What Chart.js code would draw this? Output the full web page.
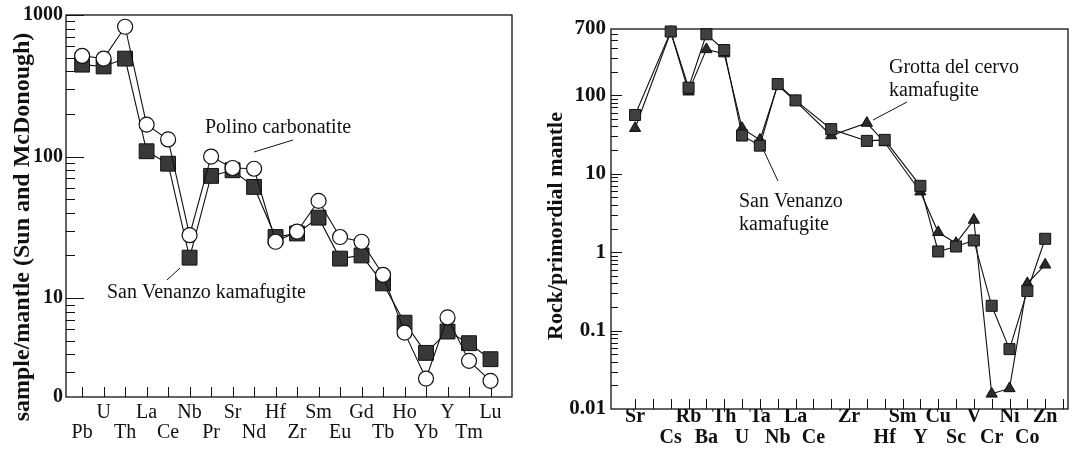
<!DOCTYPE html>
<html>
<head>
<meta charset="utf-8">
<script src="https://cdn.jsdelivr.net/npm/chart.js@4.4.1/dist/chart.umd.min.js"></script>
<style>
  html, body { margin: 0; padding: 0; background: #fff; }
  #wrap { position: relative; width: 1077px; height: 455px; overflow: hidden; background: #fff; }
  canvas { position: absolute; top: 0; }
  #left { left: 0; }
  #right { left: 540px; }
</style>
</head>
<body>
<div id="wrap">
  <canvas id="left" width="540" height="455"></canvas>
  <canvas id="right" width="537" height="455"></canvas>
</div>
<script>
// left panel, normalised to Sun and McDonough
const leftElements = ['Pb', 'U', 'Th', 'La', 'Ce', 'Nb', 'Pr', 'Sr', 'Nd', 'Hf', 'Zr', 'Sm', 'Eu', 'Gd', 'Tb', 'Ho', 'Yb', 'Y', 'Tm', 'Lu'];
const polinoCarbonatite = [515, 492, 826, 168, 132, 27.8, 100, 83, 82, 25, 29.5, 48.6, 27, 25, 14.6, 5.7, 2.7, 7.3, 3.6, 2.6];
const sanVenanzoLeft = [446, 433, 492, 109, 89, 19.3, 73, 80, 61, 27, 28.6, 37, 19, 20, 12.7, 6.7, 4.1, 5.8, 4.8, 3.7];
const leftTickValues = [1000, 100, 10, 2];
const leftTickLabels = ['1000', '100', '10', '0'];

// right panel, normalised to primordial mantle; one slot per tick mark on the x axis
const rightSlots = ['Sr', '', 'Cs', 'Rb', 'Ba', 'Th', 'U', 'Ta', 'Nb', 'La', 'Ce', '', 'Zr', '', 'Hf', 'Sm', 'Y', 'Cu', 'Sc', 'V', 'Cr', 'Ni', 'Co', 'Zn', ''];
const sanVenanzoRight = [56, null, 650, 125, 600, 377, 30.7, 22.8, 139, 86, null, 37, null, 26.2, 27, null, 7.0, 1.02, 1.18, 1.41, 0.207, 0.058, 0.32, 1.48, null];
const grottaDelCervo = [38, null, 640, 111, 385, 340, 38, 27, 135, 84, null, 30.7, null, 44.3, 25, null, 5.9, 1.79, 1.3, 2.57, 0.0156, 0.0183, 0.40, 0.69, null];
const rightTickValues = [700, 100, 10, 1, 0.1, 0.01];
const rightTickLabels = ['700', '100', '10', '1', '0.1', '0.01'];

const SERIF = "'Liberation Serif', 'Times New Roman', serif";
const INK = '#111';

// minor log ticks (2..9 of every decade) between lo and hi
function minorTicks(lo, hi) {
    const out = [];
    for (let d = 0.001; d < hi; d *= 10) {
        for (let m = 2; m <= 9; m++) {
            const v = m * d;
            if (v > lo * 1.0001 && v < hi * 0.9999) out.push(v);
        }
    }
    return out;
}

const toPoints = arr => arr.map((v, i) => ({ x: i, y: v })).filter(p => p.y !== null);

// frame, inward tick marks and the hand-placed labels of the figure
const paper = {
    id: 'paper',
    beforeDatasetsDraw(chart, args, o) {
        const { ctx, chartArea: a, scales: { x, y } } = chart;
        ctx.save();
        ctx.strokeStyle = INK;
        ctx.lineWidth = 1.3;
        ctx.strokeRect(a.left, a.top, a.right - a.left, a.bottom - a.top);
        ctx.lineWidth = 1;
        ctx.beginPath();
        o.yMajor.forEach(v => {
            const p = Math.round(y.getPixelForValue(v)) + 0.5;
            ctx.moveTo(a.left, p); ctx.lineTo(a.left + o.majorLen, p);
        });
        o.yMinor.forEach(v => {
            const p = Math.round(y.getPixelForValue(v)) + 0.5;
            ctx.moveTo(a.left, p); ctx.lineTo(a.left + o.minorLen, p);
        });
        o.xTicks.forEach(v => {
            const p = Math.round(x.getPixelForValue(v)) + 0.5;
            ctx.moveTo(p, a.bottom); ctx.lineTo(p, a.bottom - o.xLen);
        });
        ctx.stroke();
        ctx.restore();
    },
    afterDraw(chart, args, o) {
        const { ctx } = chart;
        ctx.save();
        ctx.strokeStyle = INK;
        ctx.fillStyle = INK;
        ctx.lineWidth = 1;
        ctx.beginPath();
        (o.leaders || []).forEach(([x1, y1, x2, y2]) => { ctx.moveTo(x1, y1); ctx.lineTo(x2, y2); });
        ctx.stroke();
        (o.notes || []).forEach(n => {
            ctx.font = n.font || '20px ' + SERIF;
            ctx.textBaseline = 'alphabetic';
            if (n.rotate) {
                ctx.save();
                ctx.translate(n.x, n.y);
                ctx.rotate(-Math.PI / 2);
                ctx.textAlign = 'center';
                ctx.textBaseline = 'middle';
                ctx.fillText(n.text, 0, 0);
                ctx.restore();
            } else {
                ctx.textAlign = 'left';
                ctx.fillText(n.text, n.x, n.y);
            }
        });
        ctx.restore();
    }
};

// left chart
new Chart(document.getElementById('left'), {
    type: 'line',
    data: {
        datasets: [
            {
                label: 'Polino carbonatite',
                data: toPoints(polinoCarbonatite),
                borderColor: INK,
                borderWidth: 1.1,
                pointStyle: 'circle',
                pointRadius: 7.5,
                pointBackgroundColor: '#fff',
                pointBorderColor: INK,
                pointBorderWidth: 1.2,
                tension: 0,
                clip: false
            },
            {
                label: 'San Venanzo kamafugite',
                data: toPoints(sanVenanzoLeft),
                borderColor: INK,
                borderWidth: 1.1,
                pointStyle: 'rect',
                pointRadius: 10.5,
                pointBackgroundColor: '#383838',
                pointBorderColor: INK,
                pointBorderWidth: 1,
                tension: 0,
                clip: false
            }
        ]
    },
    options: {
        responsive: false,
        animation: false,
        devicePixelRatio: 1,
        layout: { padding: { top: 15, right: 28, left: 0, bottom: 0 } },
        plugins: {
            legend: { display: false },
            tooltip: { enabled: false },
            paper: {
                yMajor: [1000, 100, 10],
                yMinor: minorTicks(2, 1000),
                majorLen: 18,
                minorLen: 9,
                xTicks: leftElements.map((_, i) => i),
                xLen: 10,
                leaders: [[293, 140, 254, 152], [180, 268, 167, 280]],
                notes: [
                    { text: 'Polino carbonatite', x: 205, y: 133 },
                    { text: 'San Venanzo kamafugite', x: 107, y: 298 },
                    { text: 'sample/mantle (Sun and McDonough)', x: 23, y: 227, rotate: true, font: 'bold 24px ' + SERIF }
                ]
            }
        },
        scales: {
            x: {
                type: 'linear',
                min: -0.75,
                max: 20,
                grid: { display: false, drawTicks: false },
                border: { display: false },
                afterBuildTicks: s => { s.ticks = leftElements.map((_, i) => ({ value: i })); },
                afterFit: s => { s.height = 58; },
                ticks: {
                    autoSkip: false,
                    maxRotation: 0,
                    padding: 6,
                    color: INK,
                    font: { family: SERIF, size: 20, lineHeight: 1 },
                    callback: v => (v % 2 ? [leftElements[v]] : ['', leftElements[v]])
                }
            },
            y: {
                type: 'logarithmic',
                min: 2,
                max: 1000,
                grid: { display: false, drawTicks: false },
                border: { display: false },
                afterBuildTicks: s => { s.ticks = leftTickValues.map(v => ({ value: v })); },
                afterFit: s => { s.width = 66; },
                ticks: {
                    padding: 3,
                    color: INK,
                    font: { family: SERIF, size: 20, weight: 'bold' },
                    callback: v => leftTickLabels[leftTickValues.indexOf(v)]
                }
            }
        }
    },
    plugins: [paper]
});

// right chart: element order decides the label row (upper / lower)
const rightRow = [];
let seen = 0;
rightSlots.forEach((s, i) => { rightRow[i] = s ? (seen++ % 2) : 0; });

new Chart(document.getElementById('right'), {
    type: 'line',
    data: {
        datasets: [
            {
                label: 'San Venanzo kamafugite',
                data: toPoints(sanVenanzoRight),
                borderColor: INK,
                borderWidth: 1.1,
                pointStyle: 'rect',
                pointRadius: 7.8,
                pointBackgroundColor: '#404040',
                pointBorderColor: INK,
                pointBorderWidth: 1,
                tension: 0,
                clip: false
            },
            {
                label: 'Grotta del cervo kamafugite',
                data: toPoints(grottaDelCervo),
                borderColor: INK,
                borderWidth: 1.1,
                pointStyle: 'triangle',
                pointRadius: 6.5,
                pointBackgroundColor: '#2a2a2a',
                pointBorderColor: INK,
                pointBorderWidth: 1,
                tension: 0,
                clip: false
            }
        ]
    },
    options: {
        responsive: false,
        animation: false,
        devicePixelRatio: 1,
        layout: { padding: { top: 29, right: 9, left: 0, bottom: 0 } },
        plugins: {
            legend: { display: false },
            tooltip: { enabled: false },
            paper: {
                yMajor: [100, 10, 1, 0.1],
                yMinor: minorTicks(0.01, 700),
                majorLen: 11,
                minorLen: 7,
                xTicks: rightSlots.map((_, i) => i),
                xLen: 10,
                leaders: [[367, 102, 333, 120], [238, 181, 223, 149]],
                notes: [
                    { text: 'Grotta del cervo', x: 349, y: 73 },
                    { text: 'kamafugite', x: 349, y: 96 },
                    { text: 'San Venanzo', x: 199, y: 207 },
                    { text: 'kamafugite', x: 199, y: 230 },
                    { text: 'Rock/primordial mantle', x: 16, y: 226, rotate: true, font: 'bold 22px ' + SERIF }
                ]
            }
        },
        scales: {
            x: {
                type: 'linear',
                min: -1.35,
                max: 24.28,
                grid: { display: false, drawTicks: false },
                border: { display: false },
                afterBuildTicks: s => { s.ticks = rightSlots.map((_, i) => ({ value: i })); },
                afterFit: s => { s.height = 46; },
                ticks: {
                    autoSkip: false,
                    maxRotation: 0,
                    padding: -3,
                    color: INK,
                    font: { family: SERIF, size: 20, weight: 'bold', lineHeight: 1.05 },
                    callback: v => (rightRow[v] ? ['', rightSlots[v]] : [rightSlots[v]])
                }
            },
            y: {
                type: 'logarithmic',
                min: 0.01,
                max: 700,
                grid: { display: false, drawTicks: false },
                border: { display: false },
                afterBuildTicks: s => { s.ticks = rightTickValues.map(v => ({ value: v })); },
                afterFit: s => { s.width = 71; },
                ticks: {
                    padding: 5,
                    color: INK,
                    font: { family: SERIF, size: 21, weight: 'bold' },
                    callback: v => rightTickLabels[rightTickValues.indexOf(v)]
                }
            }
        }
    },
    plugins: [paper]
});
</script>
</body>
</html>
